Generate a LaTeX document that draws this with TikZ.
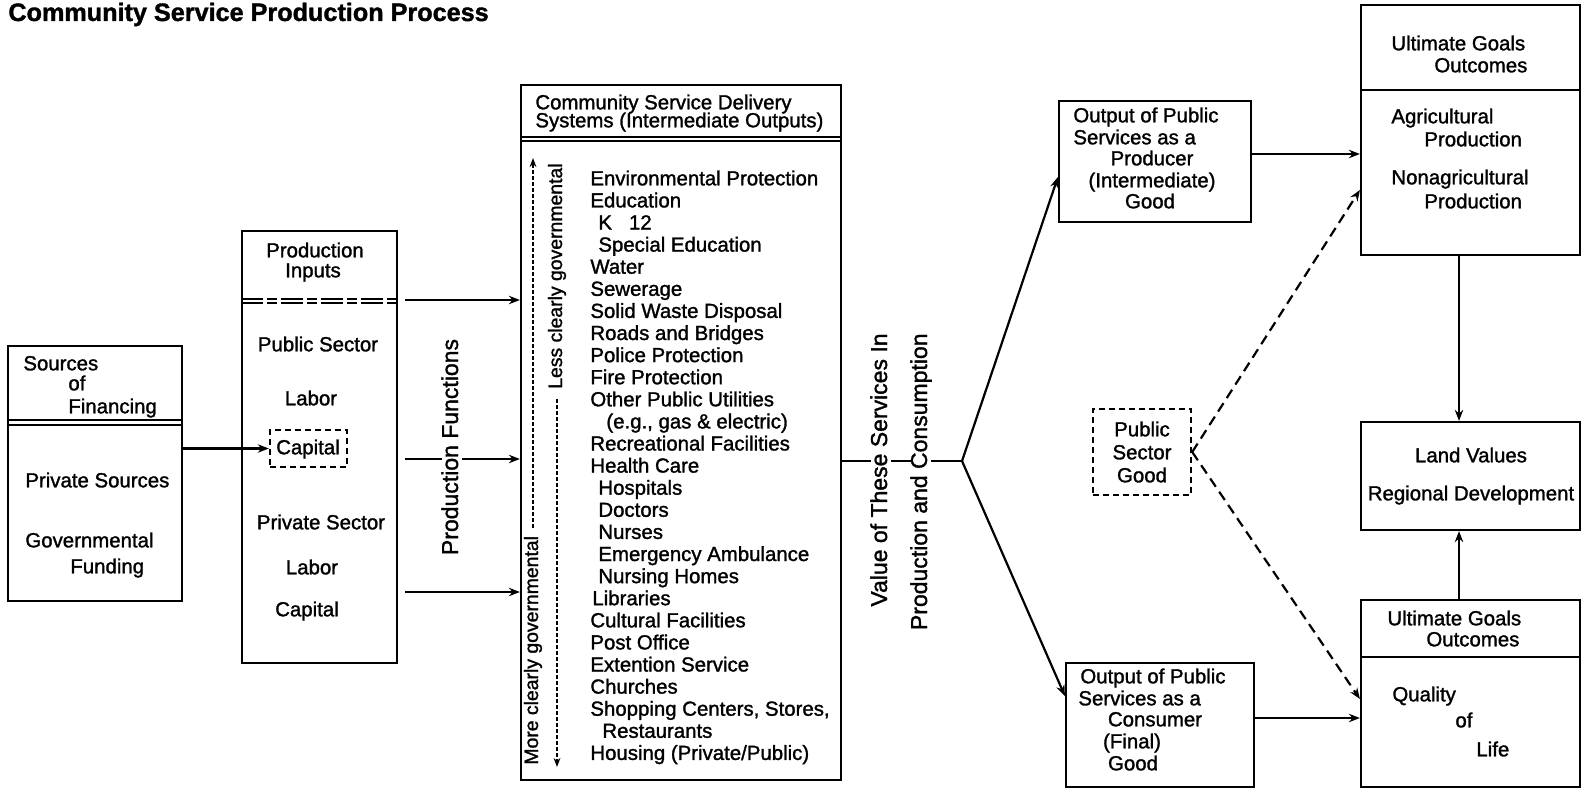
\documentclass[tikz,border=0pt]{standalone}
\usepackage{fontspec}
\setmainfont{Liberation Sans}[FakeBold=1.4]
\usetikzlibrary{arrows.meta,fit}
\begin{document}
\begin{tikzpicture}[x=0.5pt,y=-0.5pt,
  box/.style={draw,line width=1.1pt,inner sep=0pt},
  dbox/.style={draw,line width=1.2pt,dash pattern=on 3.2pt off 1.8pt,inner sep=0pt},
  tx/.style={inner sep=0pt,font=\fontsize{10.2}{12}\selectfont,text height=7.3pt,text depth=2pt},
  vt/.style={inner sep=0pt,font=\fontsize{9.7}{12}\selectfont,text height=7pt,text depth=2pt,rotate=90},
  vtb/.style={inner sep=0pt,font=\fontsize{11.5}{13}\selectfont,text height=8pt,text depth=2pt,rotate=90,fill=white},
  ln/.style={line width=1.1pt},
  sep/.style={line width=0.7pt},
  dsep/.style={line width=0.7pt,dash pattern=on 11pt off 2pt on 5pt off 2pt},
  arr/.style={line width=1.1pt,-{Stealth[length=5.5pt,width=4.2pt]}},
  darr/.style={arr,dash pattern=on 5pt off 3pt},
  garr/.style={line width=0.9pt,dash pattern=on 1.8pt off 1.2pt,-{Stealth[length=4.5pt,width=3.4pt]}},
]
\useasboundingbox (0,0) rectangle (1582,791);

% title
\node[anchor=base west,inner sep=0pt,font=\bfseries\fontsize{12.6}{14}\selectfont] (title) at (8,21) {Community Service Production Process};

% Sources of financing
\node[box,fit={(8,346) (182,601)}] (src) {};
\draw[sep] (src.west |- 0,420) -- (src.east |- 0,420);
\draw[sep] (src.west |- 0,425) -- (src.east |- 0,425);
\node[tx,anchor=west] (s1) at (23,365) {Sources};
\node[tx,anchor=west] (s2) at (68,385) {of};
\node[tx,anchor=west] (s3) at (68,408) {Financing};
\node[tx,anchor=west] (s4) at (25,482) {Private Sources};
\node[tx,anchor=west] (s5) at (25,542) {Governmental};
\node[tx,anchor=west] (s6) at (70,568) {Funding};

% Production inputs
\node[box,fit={(242,231) (397,663)}] (prod) {};
\draw[dsep] (prod.west |- 0,299) -- (prod.east |- 0,299);
\draw[dsep] (prod.west |- 0,303) -- (prod.east |- 0,303);
\node[tx] (p1) at (315,252) {Production};
\node[tx] (p2) at (313,272) {Inputs};
\node[tx] (p3) at (318,346) {Public Sector};
\node[tx] (p4) at (311,400) {Labor};
\node[dbox,fit={(270,430) (347,467)}] (cap) {};
\node[tx] (p5) at (308,449) {Capital};
\node[tx] (p6) at (321,524) {Private Sector};
\node[tx] (p7) at (312,569) {Labor};
\node[tx] (p8) at (307,611) {Capital};

\draw[arr] (src.east |- cap.west) -- (cap.west);

% Central box
\node[box,fit={(521,85) (841,780)}] (cen) {};
\draw[sep] (cen.west |- 0,137) -- (cen.east |- 0,137);
\draw[sep] (cen.west |- 0,141) -- (cen.east |- 0,141);
\node[tx,anchor=west] (h1) at (535,104) {Community Service Delivery};
\node[tx,anchor=west] (h2) at (535,122) {Systems (Intermediate Outputs)};

\node[vt,anchor=east] (less) at (557,163) {Less clearly governmental};
\node[vt,anchor=west] (more) at (533,765) {More clearly governmental};
\coordinate (ltop) at (533,158);
\coordinate (rbot) at (557,767);
\draw[garr] ([yshift=4pt]more.east) -- (ltop);
\draw[garr] ([yshift=-5pt]less.west) -- (rbot);

\foreach \t/\d [count=\i from 0] in {
  Environmental Protection/0, Education/0, K\ \ \ 12/8, Special Education/8,
  Water/0, Sewerage/0, Solid Waste Disposal/0, Roads and Bridges/0,
  Police Protection/0, Fire Protection/0, Other Public Utilities/0,
  {(e.g., gas \& electric)}/16, Recreational Facilities/0, Health Care/0,
  Hospitals/8, Doctors/8, Nurses/8, Emergency Ambulance/8, Nursing Homes/8,
  Libraries/2, Cultural Facilities/0, Post Office/0, Extention Service/0,
  Churches/0, {Shopping Centers, Stores,}/0, Restaurants/12,
  {Housing (Private/Public)}/0}
  \node[tx,anchor=west] (it\i) at ({590+\d},{180+22.1*\i}) {\t};

% production arrows
\coordinate (pa1) at (405,300);
\coordinate (pa2) at (405,459);
\coordinate (pa3) at (405,592);
\draw[arr] (pa1) -- (cen.west |- pa1);
\draw[arr] (pa2) -- (cen.west |- pa2);
\draw[arr] (pa3) -- (cen.west |- pa3);
\node[vtb] (pf) at (452,447) {Production Functions};

% value line
\coordinate (jn) at (962,461);
\draw[ln] (cen.east |- jn) -- (jn);
\node[vtb,anchor=east] (v1) at (881,333) {Value of These Services In};
\node[vtb,anchor=east] (v2) at (921,333) {Production and Consumption};

% output boxes
\node[box,fit={(1059,101) (1251,222)}] (outP) {};
\node[tx,anchor=west] (o1) at (1073,117) {Output of Public};
\node[tx,anchor=west] (o2) at (1073,139) {Services as a};
\node[tx] (o3) at (1152,160) {Producer};
\node[tx] (o4) at (1152,182) {(Intermediate)};
\node[tx] (o5) at (1150,203) {Good};

\node[box,fit={(1066,663) (1254,787)}] (outC) {};
\node[tx,anchor=west] (c1) at (1080,678) {Output of Public};
\node[tx,anchor=west] (c2) at (1078,700) {Services as a};
\node[tx] (c3) at (1155,721) {Consumer};
\node[tx] (c4) at (1132,743) {(Final)};
\node[tx] (c5) at (1133,765) {Good};

\draw[arr] (jn) -- (outP.west |- 0,177);
\draw[arr] (jn) -- (outC.west |- 0,696);

% public sector good
\node[dbox,fit={(1093,409) (1191,495)}] (psg) {};
\node[tx] (g1) at (1142,431) {Public};
\node[tx] (g2) at (1142,454) {Sector};
\node[tx] (g3) at (1142,477) {Good};

% right boxes
\node[box,fit={(1361,5) (1580,255)}] (ug1) {};
\draw[sep] (ug1.west |- 0,90) -- (ug1.east |- 0,90);
\node[tx,anchor=west] (u1) at (1391,45) {Ultimate Goals};
\node[tx,anchor=west] (u2) at (1434,67) {Outcomes};
\node[tx,anchor=west] (u3) at (1391,118) {Agricultural};
\node[tx,anchor=west] (u4) at (1424,141) {Production};
\node[tx,anchor=west] (u5) at (1391,179) {Nonagricultural};
\node[tx,anchor=west] (u6) at (1424,203) {Production};

\node[box,fit={(1361,422) (1580,530)}] (land) {};
\node[tx] (l1) at (1471,457) {Land Values};
\node[tx] (l2) at (1471,495) {Regional Development};

\node[box,fit={(1361,600) (1580,787)}] (ql) {};
\draw[sep] (ql.west |- 0,657) -- (ql.east |- 0,657);
\node[tx,anchor=west] (q1) at (1387,620) {Ultimate Goals};
\node[tx,anchor=west] (q2) at (1426,641) {Outcomes};
\node[tx,anchor=west] (q3) at (1392,696) {Quality};
\node[tx,anchor=west] (q4) at (1455,722) {of};
\node[tx,anchor=west] (q5) at (1476,751) {Life};

\draw[darr] (psg.east) -- (ug1.west |- 0,190);
\draw[darr] (psg.east) -- (ql.west |- 0,699);
\draw[arr] (outP.east |- 0,154) -- (ug1.west |- 0,154);
\draw[arr] (outC.east |- 0,718) -- (ql.west |- 0,718);
\coordinate (vx) at (1459,0);
\draw[arr] (ug1.south -| vx) -- (land.north -| vx);
\draw[arr] (ql.north -| vx) -- (land.south -| vx);
\end{tikzpicture}
\end{document}
